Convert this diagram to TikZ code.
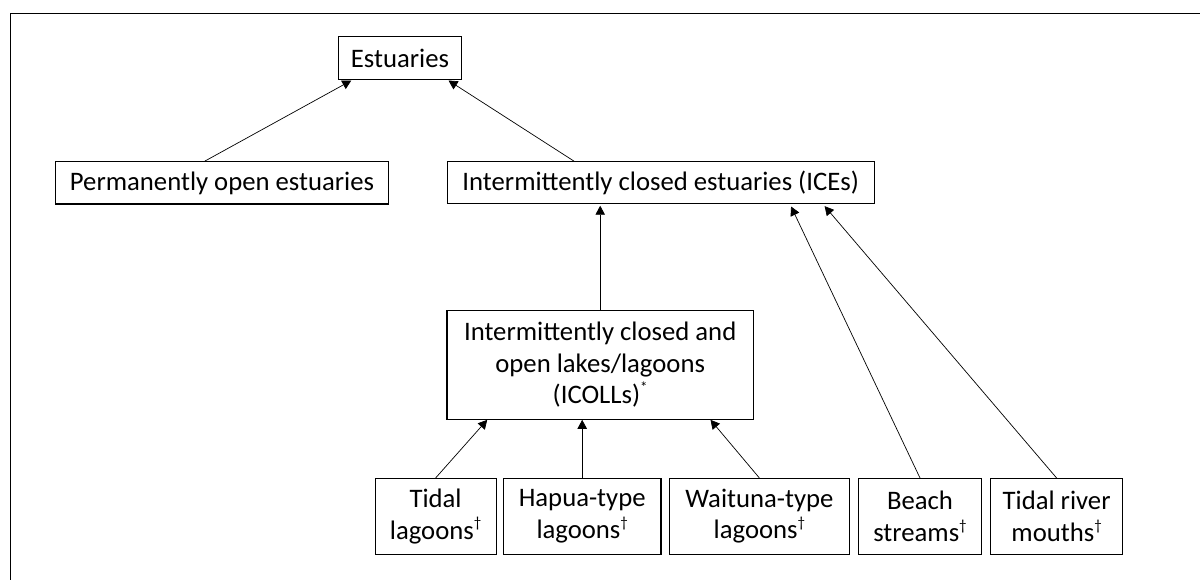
\documentclass[tikz,border=0pt]{standalone}
\usepackage{fontspec}
\setmainfont{Carlito}
\usetikzlibrary{arrows.meta}
\newcommand{\supmark}[1]{\raisebox{0.42em}{\fontsize{15pt}{15pt}\selectfont #1}}
\begin{document}
\begin{tikzpicture}[x=1pt,y=-1pt,
  box/.style={draw=black, line width=1.1pt, fill=white, rectangle, inner sep=0pt, align=center,
    font=\fontsize{26.7pt}{31.5pt}\selectfont},
  conn/.style={draw=black, line width=0.7pt, -{Triangle[length=9pt,width=9.5pt]}}]
\useasboundingbox (0,0) rectangle (1200,580);
\fill[white] (0,0) rectangle (1200,580);
\coordinate (fbl) at (10.7,580);
\coordinate (ftl) at (10.7,13.4);
\coordinate (ftr) at (1200,13.4);
\draw[line width=1.3pt] (fbl) -- (ftl) -- (ftr);

\node[box, minimum width=122.5pt, minimum height=43.3pt] (E) at (400,58.3) {Estuaries};
\node[box, minimum width=333pt, minimum height=42.3pt] (P) at (222,182.9) {Permanently open estuaries};
\node[box, minimum width=427.3pt, minimum height=42pt] (ICE) at (660.7,182.7) {Intermittently closed estuaries (ICEs)};
\node[box, minimum width=306.5pt, minimum height=108.6pt] (ICOLL) at (600.2,365) {Intermittently closed and\\open lakes/lagoons\\(ICOLLs)\supmark{*}};
\node[box, minimum width=121.1pt, minimum height=75.5pt] (T) at (435.6,516.3) {Tidal\\lagoons\supmark{†}};
\node[box, minimum width=157.5pt, minimum height=75.5pt] (H) at (582.2,516.3) {Hapua-type\\lagoons\supmark{†}};
\node[box, minimum width=179.4pt, minimum height=75.5pt] (W) at (759.4,516.3) {Waituna-type\\lagoons\supmark{†}};
\node[box, minimum width=122.9pt, minimum height=75.5pt] (B) at (920,516.3) {Beach\\streams\supmark{†}};
\node[box, minimum width=132.3pt, minimum height=75.5pt] (R) at (1056.6,516.3) {Tidal river\\mouths\supmark{†}};

\draw[conn] ([xshift=-17.3pt]P.north) -- ([xshift=-48.7pt]E.south);
\draw[conn] ([xshift=-86.7pt]ICE.north) -- ([xshift=48.5pt]E.south);
\draw[conn, shorten >=1.5pt] (ICOLL.north) -- ([xshift=-60.5pt]ICE.south);
\draw[conn] (T.north) -- ([xshift=-113pt]ICOLL.south);
\draw[conn] (H.north) -- ([xshift=-18pt]ICOLL.south);
\draw[conn] (W.north) -- ([xshift=110.3pt]ICOLL.south);
\draw[conn, shorten >=2.5pt] (B.north) -- ([xshift=129.3pt]ICE.south);
\draw[conn, shorten >=2.5pt] (R.north) -- ([xshift=162.3pt]ICE.south);
\end{tikzpicture}
\end{document}
